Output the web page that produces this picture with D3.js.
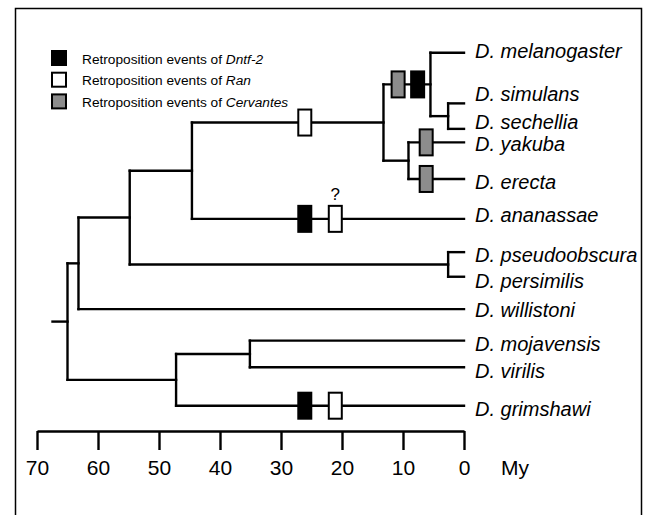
<!DOCTYPE html>
<html>
<head>
<meta charset="utf-8">
<script src="https://cdn.jsdelivr.net/npm/d3@7"></script>
<style>
  html, body { margin: 0; padding: 0; background: #fff; }
  svg { display: block; }
  text { font-family: "Liberation Sans", Arial, Helvetica, sans-serif; }
</style>
</head>
<body>
<svg id="chart" width="657" height="515"></svg>
<script>
// ---------------- data ----------------
const leafNames = ["D. melanogaster", "D. simulans", "D. sechellia", "D. yakuba", "D. erecta",
  "D. ananassae", "D. pseudoobscura", "D. persimilis", "D. willistoni",
  "D. mojavensis", "D. virilis", "D. grimshawi"];
// vertical slot of each leaf (tree row units)
const leafSlot = [0, 1.69, 2.54, 2.99, 4.21, 5.54, 6.65, 7.47, 8.55, 9.6, 10.49, 11.77];

const nodeIds = ["root", "willNode", "obsNode", "anaNode", "melGrp", "melSub", "simSech",
  "yakEre", "pseuPers", "lower", "mojVir"];
// divergence times (million years ago)
const nodeAges = [65, 63.2, 54.8, 44.6, 13.2, 5.5, 2.6, 9.1, 2.6, 47.2, 35.1];
const nodeChildren = [
  ["willNode", "lower"],
  ["obsNode", "D. willistoni"],
  ["anaNode", "pseuPers"],
  ["melGrp", "D. ananassae"],
  ["melSub", "yakEre"],
  ["D. melanogaster", "simSech"],
  ["D. simulans", "D. sechellia"],
  ["D. yakuba", "D. erecta"],
  ["D. pseudoobscura", "D. persimilis"],
  ["mojVir", "D. grimshawi"],
  ["D. mojavensis", "D. virilis"]
];

// retroposition events
const eventBranch = ["melGrp", "D. ananassae", "D. ananassae", "D. grimshawi", "D. grimshawi",
  "melSub", "melSub", "D. yakuba", "D. erecta"];
const eventAge = [26.1, 26.1, 21.1, 26.1, 21.1, 10.8, 7.6, 6.2, 6.2];
const eventGene = ["Ran", "Dntf-2", "Ran", "Dntf-2", "Ran", "Cervantes", "Dntf-2", "Cervantes", "Cervantes"];
const eventUncertain = [false, false, true, false, false, false, false, false, false];

const legendGenes = ["Dntf-2", "Ran", "Cervantes"];
const geneColors = ["#000000", "#ffffff", "#8c8c8c"];

const axisTicks = [70, 60, 50, 40, 30, 20, 10, 0];
const axisUnit = "My";

// label baseline nudges (px) to match the reference placement
const labelNudge = [5, -2, 0, 9, 10, 3, 10, 11, 8, 10, 11, 10];

// ---------------- build ----------------
const svg = d3.select("#chart");

// frame
svg.append("rect")
  .attr("x", 15.5).attr("y", 8.5)
  .attr("width", 626).attr("height", 520)
  .attr("fill", "none").attr("stroke", "#000").attr("stroke-width", 1.5);

const x = d3.scaleLinear().domain([70, 0]).range([37, 464]);
const y = d3.scaleLinear().domain([0, 11.77]).range([52.7, 405.7]);

// hierarchy
const childMap = new Map(nodeIds.map((id, i) => [id, nodeChildren[i]]));
const ageMap = new Map(nodeIds.map((id, i) => [id, nodeAges[i]]));
function build(id) {
  const ch = childMap.get(id);
  return ch ? { id, age: ageMap.get(id), children: ch.map(build) }
            : { id, age: 0, leaf: leafNames.indexOf(id) };
}
const root = d3.hierarchy(build("root"));
root.eachAfter(n => {
  n.px = x(n.data.age);
  if (n.children) n.py = d3.mean([d3.min(n.children, c => c.py), d3.max(n.children, c => c.py)]);
  else n.py = y(leafSlot[n.data.leaf]);
});
const byId = new Map(root.descendants().map(n => [n.data.id, n]));

const tree = svg.append("g").attr("stroke", "#000").attr("stroke-width", 2.4)
  .attr("fill", "none").attr("stroke-linecap", "square");

// root stub
tree.append("line")
  .attr("x1", root.px - 15).attr("x2", root.px)
  .attr("y1", root.py).attr("y2", root.py);

// vertical connectors
tree.selectAll("line.v").data(root.descendants().filter(n => n.children))
  .join("line").attr("class", "v")
  .attr("x1", d => d.px).attr("x2", d => d.px)
  .attr("y1", d => d3.min(d.children, c => c.py))
  .attr("y2", d => d3.max(d.children, c => c.py));

// horizontal branches
tree.selectAll("line.h").data(root.descendants().filter(n => n.parent))
  .join("line").attr("class", "h")
  .attr("x1", d => d.parent.px).attr("x2", d => d.px)
  .attr("y1", d => d.py).attr("y2", d => d.py);

// leaf labels
svg.append("g").selectAll("text").data(root.leaves())
  .join("text")
  .attr("x", d => d.px + 11)
  .attr("y", d => d.py + labelNudge[d.data.leaf])
  .attr("font-size", 20).attr("font-style", "italic")
  .text(d => d.data.id);

// events
const events = eventBranch.map((b, i) => ({ b, age: eventAge[i], gene: eventGene[i], q: eventUncertain[i] }));
const ev = svg.append("g");
ev.selectAll("rect").data(events).join("rect")
  .attr("x", d => x(d.age) - 6.5)
  .attr("y", d => byId.get(d.b).py - 13)
  .attr("width", 13).attr("height", 26)
  .attr("fill", d => geneColors[legendGenes.indexOf(d.gene)])
  .attr("stroke", "#000").attr("stroke-width", 2);
ev.selectAll("text").data(events.filter(d => d.q)).join("text")
  .attr("x", d => x(d.age))
  .attr("y", d => byId.get(d.b).py - 19)
  .attr("text-anchor", "middle").attr("font-size", 17)
  .text("?");

// legend
const lg = svg.append("g");
const lrow = lg.selectAll("g").data(legendGenes).join("g")
  .attr("transform", (d, i) => `translate(51,${50 + i * 21.7})`);
lrow.append("rect")
  .attr("x", 1).attr("y", 1).attr("width", 14).attr("height", 14)
  .attr("fill", (d, i) => geneColors[i]).attr("stroke", "#000").attr("stroke-width", 2);
const lt = lrow.append("text").attr("x", 31).attr("y", 13.5).attr("font-size", 13.7);
lt.append("tspan").text("Retroposition events of ");
lt.append("tspan").attr("font-style", "italic").text(d => d);

// axis
const axis = d3.axisBottom(x).tickValues(axisTicks).tickSize(19).tickSizeOuter(0).tickPadding(10)
  .tickFormat(d3.format("d"));
const ag = svg.append("g").attr("transform", "translate(0,431)").call(axis);
ag.select(".domain").attr("stroke", "#000").attr("stroke-width", 2.4);
ag.selectAll(".tick line").attr("stroke", "#000").attr("stroke-width", 2.4);
ag.selectAll(".tick text").attr("font-size", 21).attr("fill", "#000")
  .attr("font-family", "\"Liberation Sans\", Arial, Helvetica, sans-serif");
svg.append("text").attr("x", 501).attr("y", 475).attr("font-size", 21).text(axisUnit);
</script>
</body>
</html>
